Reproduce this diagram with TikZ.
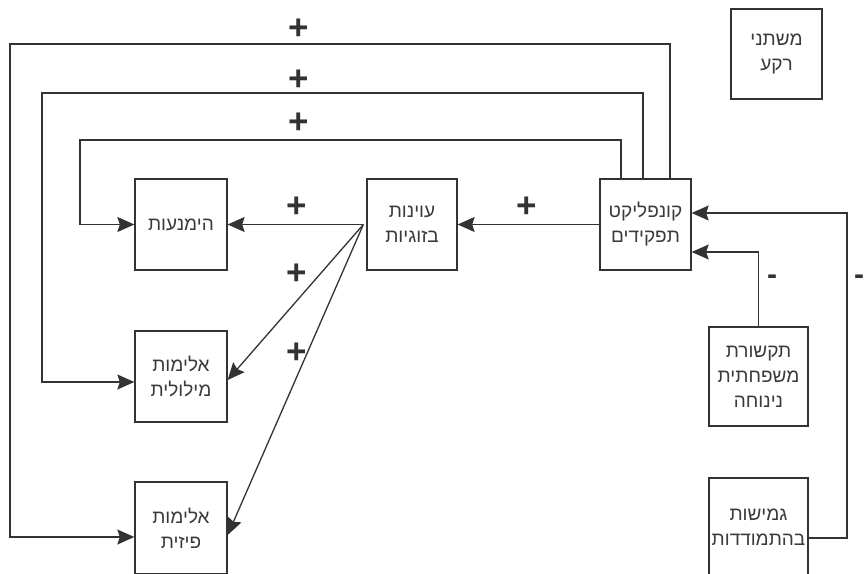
\documentclass[tikz,border=0pt]{standalone}
\usepackage{fontspec}
\setmainfont{Liberation Sans}
\newfontfamily\hebfont[Script=Hebrew]{Liberation Sans}
\TeXXeTstate=1
\usetikzlibrary{arrows.meta}
\definecolor{ink}{HTML}{333333}
\definecolor{txt}{HTML}{3A3A3A}
\newcommand{\hl}[1]{\beginR #1\endR}
\tikzset{
  box/.style={draw=ink, line width=1.3pt, fill=white, inner sep=0pt, align=center,
    font=\hebfont\fontsize{19}{25}\selectfont, text=txt},
  conn/.style={draw=ink, line width=1.3pt},
  arr/.style={conn, -{Stealth[length=17pt, width=15pt, inset=2.5pt]}},
  sign/.style={font=\bfseries\fontsize{35}{35}\selectfont, text=ink, inner sep=0pt},
  minus/.style={font=\bfseries\fontsize{30}{30}\selectfont, text=ink, inner sep=0pt}
}
\begin{document}
\begin{tikzpicture}[x=1pt, y=-1pt]
\useasboundingbox (0,0) rectangle (864,573);
% nodes
\node[box, minimum width=92pt, minimum height=91pt] (him) at (181,224.5) {\hl{הימנעות}};
\node[box, minimum width=90pt, minimum height=91pt] (oin) at (412,224.5) {\hl{עוינות}\\\hl{בזוגיות}};
\node[box, minimum width=91pt, minimum height=91pt] (konf) at (645.5,224.5) {\hl{קונפליקט}\\\hl{תפקידים}};
\node[box, minimum width=91pt, minimum height=90pt] (bg) at (776.5,54) {\hl{משתני}\\\hl{רקע}};
\node[box, minimum width=92pt, minimum height=91pt] (milo) at (181,376.5) {\hl{אלימות}\\\hl{מילולית}};
\node[box, minimum width=92pt, minimum height=92pt] (phys) at (181,528) {\hl{אלימות}\\\hl{פיזית}};
\node[box, minimum width=99pt, minimum height=99pt] (tik) at (758.5,376.5) {\hl{תקשורת}\\\hl{משפחתית}\\\hl{נינוחה}};
\node[box, minimum width=99pt, minimum height=99pt] (gmi) at (758.5,527.5) {\hl{גמישות}\\\hl{בהתמודדות}};
% loops from konf
\coordinate (c1) at (10,44);
\coordinate (c2) at (42,93);
\coordinate (c3) at (80,140);
\draw[arr] ([xshift=24.5pt]konf.north) |- (c1) |- ([yshift=-9pt]phys.west);
\draw[arr] ([xshift=-2.5pt]konf.north) |- (c2) |- ([yshift=-5.5pt]milo.west);
\draw[arr] ([xshift=-24.5pt]konf.north) |- (c3) |- (him.west);
% main chain
\draw[arr] (konf.west) -- (oin.east);
\draw[arr] ([xshift=-3pt]oin.west) -- (him.east);
\draw[arr] ([xshift=-3pt]oin.west) -- ([yshift=-3.5pt]milo.east);
\draw[arr] ([xshift=-3pt]oin.west) -- ([yshift=-7pt]phys.east);
% right side
\coordinate (r1) at (847,538);
\draw[arr] ([yshift=-10.5pt]gmi.east) -- (r1) |- ([yshift=11.5pt]konf.east);
\draw[arr] (tik.north) |- ([yshift=-27.5pt]konf.east);
% labels
\node[sign] (p1) at (299,29) {+};
\node[sign] (p2) at (299,80) {+};
\node[sign] (p3) at (299,123) {+};
\node[sign] (p4) at (297,207) {+};
\node[sign] (p5) at (527,207) {+};
\node[sign] (p6) at (297,274) {+};
\node[sign] (p7) at (297,353) {+};
\node[minus] (m1) at (772,280) {-};
\node[minus] (m2) at (859,280) {-};
\end{tikzpicture}
\end{document}
